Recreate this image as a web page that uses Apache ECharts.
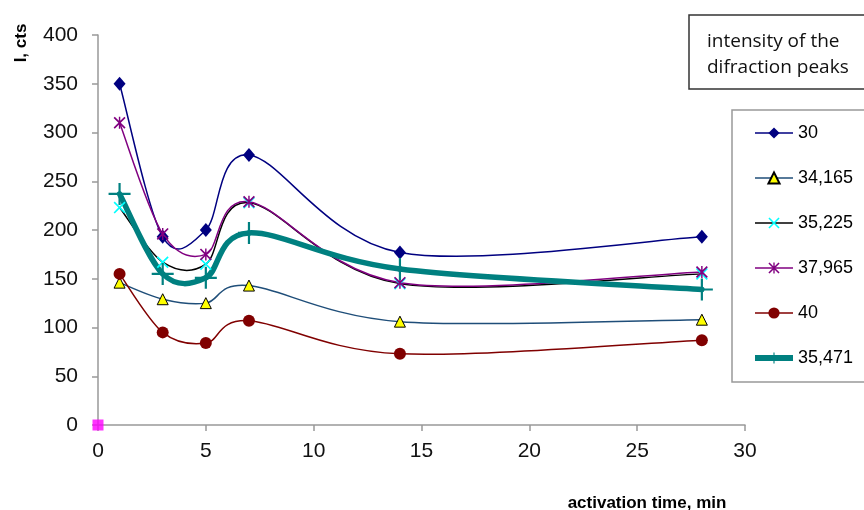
<!DOCTYPE html>
<html>
<head>
<meta charset="utf-8">
<script src="https://cdn.jsdelivr.net/npm/echarts@6/dist/echarts.min.js"></script>
<style>
  html, body { margin: 0; padding: 0; background: #fff; }
  #main { width: 864px; height: 510px; }
</style>
</head>
<body>
<div id="main"></div>
<script>
// activation time, min
const times = [1, 3, 5, 7, 14, 28];

// peak intensity, cts (one array per diffraction angle)
const peak30 = [350, 193, 200, 277, 177, 193];
const peak34165 = [146, 129, 125, 143, 106, 108];
const peak35225 = [223, 167, 165, 228, 145, 155];
const peak37965 = [310, 196, 175, 229, 146, 157];
const peak40 = [155, 95, 84, 107, 73, 87];
const peak35471 = [237, 155, 151, 197, 160, 139];

const seriesNames = ['30', '34,165', '35,225', '37,965', '40', '35,471'];

window.addEventListener('load', function () {
  var chart = echarts.init(document.getElementById('main'));

  // markers drawn as filled paths
  const xMark = 'path://M0,1 L1,0 L5,4 L9,0 L10,1 L6,5 L10,9 L9,10 L5,6 L1,10 L0,9 L4,5 Z';
  const starMark = 'path://M0,1 L1,0 L5,4 L9,0 L10,1 L6,5 L10,9 L9,10 L5,6 L1,10 L0,9 L4,5 Z M4.4,0 L5.6,0 L5.6,10 L4.4,10 Z';
  const plusMark = 'path://M4.5,0 L5.5,0 L5.5,4.5 L10,4.5 L10,5.5 L5.5,5.5 L5.5,10 L4.5,10 L4.5,5.5 L0,5.5 L0,4.5 L4.5,4.5 Z';

  function pairs(vals) {
    return times.map(function (t, i) { return [t, vals[i]]; });
  }

  // spreadsheet style smoothing (catmull-rom, 1/6 tangents), one segment per point
  function curveSeries(name, vals, color, width) {
    return {
      name: name,
      type: 'custom',
      coordinateSystem: 'cartesian2d',
      data: pairs(vals),
      silent: true,
      z: 2,
      renderItem: function (params, api) {
        var i = params.dataIndex;
        if (i >= times.length - 1) return null;
        var pt = function (k) {
          k = Math.max(0, Math.min(times.length - 1, k));
          return api.coord([times[k], vals[k]]);
        };
        var p0 = pt(i - 1), p1 = pt(i), p2 = pt(i + 1), p3 = pt(i + 2);
        return {
          type: 'bezierCurve',
          shape: {
            x1: p1[0], y1: p1[1],
            x2: p2[0], y2: p2[1],
            cpx1: p1[0] + (p2[0] - p0[0]) / 6,
            cpy1: p1[1] + (p2[1] - p0[1]) / 6,
            cpx2: p2[0] - (p3[0] - p1[0]) / 6,
            cpy2: p2[1] - (p3[1] - p1[1]) / 6
          },
          style: { stroke: color, lineWidth: width, fill: null, lineCap: 'round' }
        };
      }
    };
  }

  function markSeries(name, vals, lineColor, markColor, symbol, size, width, border) {
    return {
      name: name,
      type: 'line',
      data: pairs(vals),
      symbol: symbol,
      symbolSize: size,
      lineStyle: { color: lineColor, width: width, opacity: 0 },
      itemStyle: border
        ? { color: markColor, borderColor: '#000', borderWidth: 1 }
        : { color: markColor, borderWidth: 0 },
      emphasis: { disabled: true },
      z: 3
    };
  }

  chart.setOption({
    animation: false,
    textStyle: { fontFamily: 'Liberation Sans, Arial, sans-serif' },
    title: {
      text: 'intensity of the\ndifraction peaks',
      left: 689,
      top: 15,
      padding: [14, 40, 8, 18],
      borderColor: '#333',
      borderWidth: 1.5,
      textStyle: {
        fontFamily: 'Open Sans',
        fontWeight: 'normal',
        fontSize: 19,
        lineHeight: 26,
        color: '#111'
      }
    },
    legend: {
      data: seriesNames.map(function (n) {
        return { name: n, lineStyle: { opacity: 1, width: n === '35,471' ? 6 : 1.5 } };
      }),
      orient: 'vertical',
      left: 732,
      top: 110,
      padding: [14, 60, 15, 20],
      itemWidth: 38,
      itemHeight: 14,
      itemGap: 27,
      borderColor: '#999',
      borderWidth: 1.5,
      textStyle: { fontSize: 18, lineHeight: 18, color: '#000', fontFamily: 'Liberation Sans, Arial' }
    },
    grid: { left: 98, right: 119, top: 35, bottom: 85, containLabel: false },
    xAxis: {
      type: 'value',
      min: 0,
      max: 30,
      interval: 5,
      axisLine: { show: true, lineStyle: { color: '#999', width: 1.5 } },
      axisTick: { show: true, length: 6, lineStyle: { color: '#999', width: 1.5 } },
      splitLine: { show: false },
      axisLabel: { fontSize: 21, color: '#111', margin: 16 }
    },
    yAxis: {
      type: 'value',
      min: 0,
      max: 400,
      interval: 50,
      axisLine: { show: true, lineStyle: { color: '#999', width: 1.5 } },
      axisTick: { show: true, length: 6, lineStyle: { color: '#999', width: 1.5 } },
      splitLine: { show: false },
      axisLabel: { fontSize: 21, color: '#111', margin: 20 }
    },
    graphic: [
      {
        type: 'text',
        x: 21,
        y: 43,
        rotation: Math.PI / 2,
        style: {
          text: 'I, cts',
          fontSize: 17,
          fontWeight: 'bold',
          fontFamily: 'Liberation Sans, Arial',
          fill: '#000',
          align: 'center',
          verticalAlign: 'middle'
        }
      },
      {
        type: 'text',
        x: 647,
        y: 503,
        style: {
          text: 'activation time, min',
          fontSize: 17,
          fontWeight: 'bold',
          fontFamily: 'Liberation Sans, Arial',
          fill: '#000',
          align: 'center',
          verticalAlign: 'middle'
        }
      }
    ],
    series: [
      curveSeries('c30', peak30, '#000080', 1.5),
      curveSeries('c34165', peak34165, '#1F4E79', 1.5),
      curveSeries('c35225', peak35225, '#000000', 1.5),
      curveSeries('c37965', peak37965, '#800080', 1.5),
      curveSeries('c40', peak40, '#800000', 1.5),
      curveSeries('c35471', peak35471, '#008080', 5.5),
      markSeries(seriesNames[0], peak30, '#000080', '#000080', 'diamond', [12, 14], 1.5, false),
      markSeries(seriesNames[1], peak34165, '#1F4E79', '#FFFF00', 'triangle', 11, 1.5, true),
      markSeries(seriesNames[2], peak35225, '#000000', '#00FFFF', xMark, 12, 1.5, false),
      markSeries(seriesNames[3], peak37965, '#800080', '#800080', starMark, 12, 1.5, false),
      markSeries(seriesNames[4], peak40, '#800000', '#800000', 'circle', 12, 1.5, false),
      markSeries(seriesNames[5], peak35471, '#008080', '#008080', plusMark, 22, 6, false),
      {
        name: 'origin',
        type: 'scatter',
        data: [[0, 0]],
        symbol: 'rect',
        symbolSize: 11,
        clip: false,
        itemStyle: { color: '#FF00FF' },
        z: 5
      }
    ]
  });
});
</script>
</body>
</html>
